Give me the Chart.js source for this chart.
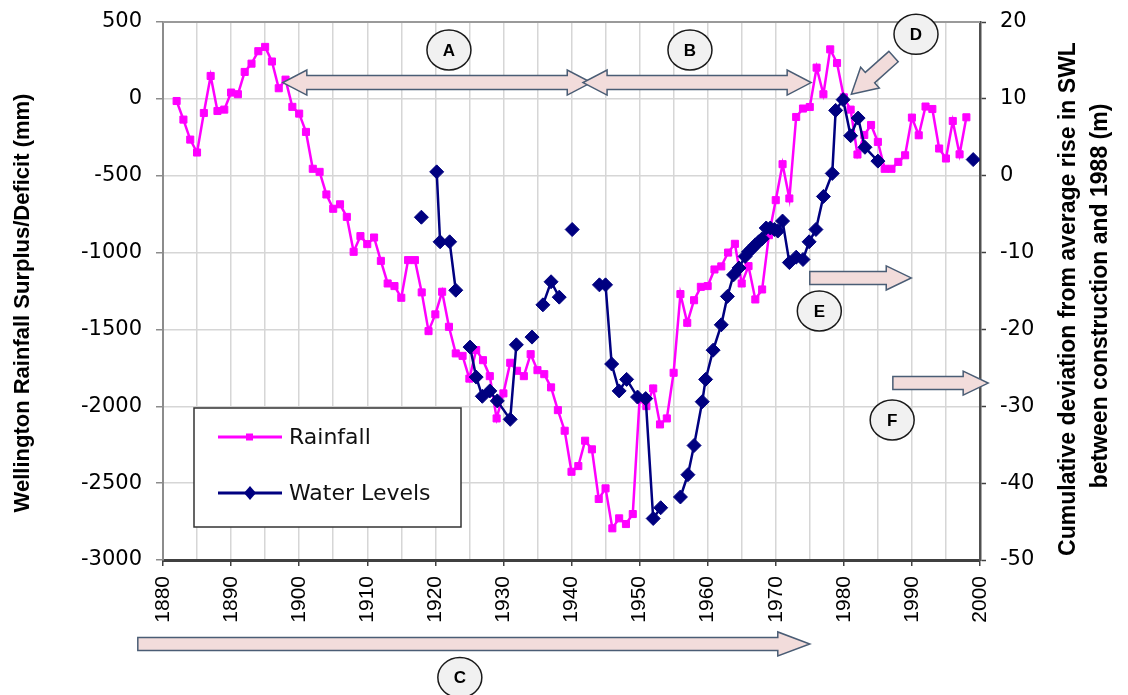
<!DOCTYPE html>
<html><head><meta charset="utf-8">
<script src="https://cdn.jsdelivr.net/npm/chart.js@4.4.1/dist/chart.umd.min.js"></script>
<style>html,body{margin:0;padding:0;background:#fff;}#wrap{width:1128px;height:695px;position:relative;}</style>
</head><body><div id="wrap"><canvas id="c" width="1128" height="695"></canvas></div>
<script>
// ---------- DATA ----------
const rainYears = [1882,1883,1884,1885,1886,1887,1888,1889,1890,1891,
 1892,1893,1894,1895,1896,1897,1898,1899,1900,1901,
 1902,1903,1904,1905,1906,1907,1908,1909,1910,1911,
 1912,1913,1914,1915,1916,1917,1918,1919,1920,1921,
 1922,1923,1924,1925,1926,1927,1928,1929,1930,1931,
 1932,1933,1934,1935,1936,1937,1938,1939,1940,1941,
 1942,1943,1944,1945,1946,1947,1948,1949,1950,1951,
 1952,1953,1954,1955,1956,1957,1958,1959,1960,1961,
 1962,1963,1964,1965,1966,1967,1968,1969,1970,1971,
 1972,1973,1974,1975,1976,1977,1978,1979,1980,1981,
 1982,1983,1984,1985,1986,1987,1988,1989,1990,1991,
 1992,1993,1994,1995,1996,1997,1998];
const rainValues = [-14,-135,-265,-349,-92,149,-79,-70,41,30,
 175,229,310,338,243,69,125,-52,-96,-215,
 -455,-475,-622,-715,-686,-768,-995,-893,-945,-902,
 -1054,-1201,-1218,-1294,-1049,-1049,-1259,-1511,-1402,-1255,
 -1483,-1656,-1672,-1820,-1634,-1700,-1804,-2079,-1916,-1717,
 -1769,-1804,-1661,-1765,-1791,-1877,-2025,-2159,-2426,-2389,
 -2224,-2280,-2603,-2534,-2794,-2729,-2766,-2701,-1955,-1999,
 -1884,-2118,-2079,-1782,-1270,-1457,-1310,-1223,-1218,-1110,
 -1090,-1000,-943,-1201,-1088,-1305,-1240,-887,-659,-425,
 -648,-118,-63,-53,203,30,322,233,10,-70,
 -362,-235,-170,-280,-455,-455,-410,-367,-122,-237,
 -50,-66,-323,-388,-144,-361,-120];
// water levels (null = gap in record)
const wlYears = [1917.95,1919,1920.2,1920.7,1922.1,1923.0,1924,1925.1,1926.0,1926.9,
 1928.0,1929.1,1931.0,1931.9,1933,1934.2,1935,1935.8,1937.0,1938.2,
 1939,1940.1,1942,1944.1,1945.0,1945.9,1947.0,1948.1,1949.7,1950.9,
 1952.0,1953.1,1954.5,1956.0,1957.1,1958.0,1959.2,1959.7,1960.8,1962.0,
 1962.9,1963.8,1964.6,1965.5,1966.0,1966.5,1967.0,1967.5,1968.0,1968.6,
 1969.2,1969.8,1970.3,1971.0,1972.0,1973.0,1974.0,1974.9,1975.9,1977.0,
 1978.3,1978.8,1979.9,1981.0,1982.1,1983.1,1985.0,1992,1999.0];
const wlValues = [-5.4,null,0.5,-8.6,-8.6,-14.9,null,-22.3,-26.2,-28.7,
 -28.0,-29.3,-31.7,-22.0,null,-21.0,null,-16.8,-13.8,-15.8,
 null,-7.0,null,-14.2,-14.2,-24.5,-28.0,-26.5,-28.8,-29.0,
 -44.6,-43.2,null,-41.8,-38.9,-35.1,-29.4,-26.5,-22.7,-19.4,
 -15.7,-12.9,-12.0,-10.5,-9.9,-9.5,-9.0,-8.6,-8.2,-6.8,
 -6.8,-7.0,-7.2,-5.9,-11.3,-10.6,-10.9,-8.6,-7.0,-2.7,
 0.3,8.5,9.9,5.2,7.5,3.7,1.9,null,2.1];
const seriesNames = ['Rainfall','Water Levels'];
const xTickStep = 5;        // gridlines every 5 years, labels every 10
const leftTicks = {min:-3000, max:500, step:500};
const rightTicks = {min:-50, max:20, step:10};
const leftTitle = 'Wellington Rainfall Surplus/Deficit (mm)';
const rightTitle = ['Cumulative deviation from average rise in SWL','between construction and 1988 (m)'];
// annotations in data coordinates (x = year, y = left-axis mm)
const arrowsDouble = [ {x1:1897.6, x2:1942.9, y:106}, {x1:1941.7, x2:1975.2, y:106} ];
const arrowsSingle = [
  {x1:1987.3, y1:275, x2:1981.1, y2:30},
  {x1:1975.0, y1:-1165, x2:1989.9, y2:-1165},
  {x1:1987.2, y1:-1849, x2:2001.2, y2:-1849},
  {x1:1876.3, y1:-3546, x2:1975.0, y2:-3546}
];
const labelCircles = [
  {t:'A', x:1922.0, y:318}, {t:'B', x:1957.4, y:318}, {t:'D', x:1990.6, y:420},
  {t:'E', x:1976.4, y:-1380}, {t:'F', x:1987.1, y:-2089}, {t:'C', x:1923.6, y:-3765}
];

const MAG = '#ff00ff', NAVY = '#000080';

function arrowPoly(ctx, x1,y1,x2,y2,w,hw,hl,dbl){
  const dx=x2-x1, dy=y2-y1, L=Math.hypot(dx,dy), ux=dx/L, uy=dy/L, nx=-uy, ny=ux;
  const P=(t,s)=>[x1+ux*t+nx*s, y1+uy*t+ny*s];
  let pts;
  if(dbl){
    pts=[P(0,0),P(hl,hw),P(hl,w),P(L-hl,w),P(L-hl,hw),P(L,0),P(L-hl,-hw),P(L-hl,-w),P(hl,-w),P(hl,-hw)];
  } else {
    pts=[P(0,w),P(L-hl,w),P(L-hl,hw),P(L,0),P(L-hl,-hw),P(L-hl,-w),P(0,-w)];
  }
  ctx.beginPath();
  ctx.moveTo(pts[0][0],pts[0][1]);
  for(let i=1;i<pts.length;i++) ctx.lineTo(pts[i][0],pts[i][1]);
  ctx.closePath();
  ctx.fillStyle='#f2dcdb'; ctx.fill();
  ctx.strokeStyle='#4a5d75'; ctx.lineWidth=1.5; ctx.stroke();
}

const overlay = {
  id:'overlay',
  afterDraw(chart){
    const ctx=chart.ctx, xs=chart.scales.x, ys=chart.scales.y, ca=chart.chartArea;
    ctx.save();
    // top border of plot area
    ctx.strokeStyle='#9a9a9a'; ctx.lineWidth=2;
    ctx.beginPath(); ctx.moveTo(ca.left,ca.top); ctx.lineTo(ca.right,ca.top); ctx.stroke();
    // annotations
    arrowsDouble.forEach(a=>{
      const y=ys.getPixelForValue(a.y);
      arrowPoly(ctx, xs.getPixelForValue(a.x1), y, xs.getPixelForValue(a.x2), y, 7, 12.5, 24, true);
    });
    arrowsSingle.forEach((a,i)=>{
      arrowPoly(ctx, xs.getPixelForValue(a.x1), ys.getPixelForValue(a.y1), xs.getPixelForValue(a.x2), ys.getPixelForValue(a.y2), i===0?7:6.5, i===0?14:12, i===3?32:25, false);
    });
    labelCircles.forEach(c=>{
      const px=xs.getPixelForValue(c.x), py=ys.getPixelForValue(c.y);
      ctx.beginPath(); ctx.ellipse(px,py,22,20,0,0,Math.PI*2);
      ctx.fillStyle='#f1f1f1'; ctx.fill();
      ctx.strokeStyle='#1a1a1a'; ctx.lineWidth=1.5; ctx.stroke();
      ctx.fillStyle='#000'; ctx.font='bold 17px "Liberation Sans", Arial, sans-serif';
      ctx.textAlign='center'; ctx.textBaseline='middle';
      ctx.fillText(c.t, px, py+1);
    });
    // legend
    const lx=194, ly=408, lw=267, lh=119;
    ctx.fillStyle='#fff'; ctx.fillRect(lx,ly,lw,lh);
    ctx.strokeStyle='#333'; ctx.lineWidth=1.5; ctx.strokeRect(lx,ly,lw,lh);
    const ds=chart.data.datasets;
    const entries=[ds.find(d=>d.label===seriesNames[0]), ds.find(d=>d.label===seriesNames[1])];
    entries.forEach((d,i)=>{
      const yy= i===0 ? 437 : 493;
      ctx.strokeStyle=d.borderColor; ctx.lineWidth=3;
      ctx.beginPath(); ctx.moveTo(218,yy); ctx.lineTo(282,yy); ctx.stroke();
      ctx.fillStyle=d.borderColor;
      if(d.pointStyle==='rect'){ ctx.fillRect(246,yy-3.5,7,7); }
      else { ctx.beginPath(); ctx.moveTo(250,yy-7); ctx.lineTo(256,yy); ctx.lineTo(250,yy+7); ctx.lineTo(244,yy); ctx.closePath(); ctx.fill(); }
      ctx.fillStyle='#111'; ctx.font='22px "DejaVu Sans", sans-serif';
      ctx.textAlign='left'; ctx.textBaseline='middle';
      ctx.fillText(d.label, 289, yy+1);
    });
    // axis titles
    ctx.fillStyle='#000';
    ctx.textAlign='center'; ctx.textBaseline='middle';
    ctx.font='bold 22px "Liberation Sans", Arial, sans-serif';
    ctx.save(); ctx.translate(23,303); ctx.rotate(-Math.PI/2); ctx.fillText(leftTitle,0,0); ctx.restore();
    ctx.font='bold 23px "Liberation Sans", Arial, sans-serif';
    ctx.save(); ctx.translate(1069,299); ctx.rotate(-Math.PI/2); ctx.fillText(rightTitle[0],0,0); ctx.restore();
    ctx.save(); ctx.translate(1101,296); ctx.rotate(-Math.PI/2); ctx.fillText(rightTitle[1],0,0); ctx.restore();
    ctx.restore();
  }
};

function noPad(s){ s.paddingTop=0; s.paddingBottom=0; s.paddingLeft=0; s.paddingRight=0; }

new Chart(document.getElementById('c'), {
  type:'line',
  data:{ datasets:[
    { label:seriesNames[1], data:wlYears.map((x,i)=>({x:x, y:wlValues[i]})), yAxisID:'y2',
      borderColor:NAVY, backgroundColor:NAVY, pointBackgroundColor:NAVY, pointBorderColor:NAVY,
      borderWidth:2.5, pointStyle:'rectRot', pointRadius:7, pointHoverRadius:7, pointBorderWidth:1,
      spanGaps:false, tension:0, order:0 },
    { label:seriesNames[0], data:rainYears.map((x,i)=>({x:x, y:rainValues[i]})), yAxisID:'y',
      borderColor:MAG, backgroundColor:MAG, pointBackgroundColor:MAG, pointBorderColor:MAG,
      borderWidth:2.5, pointStyle:'rect', pointRadius:5, pointHoverRadius:5, pointBorderWidth:1,
      tension:0, order:1 }
  ]},
  options:{
    responsive:false, animation:false, devicePixelRatio:1,
    layout:{padding:{top:22,left:0,right:0,bottom:0}},
    plugins:{legend:{display:false}, tooltip:{enabled:false}},
    scales:{
      x:{ type:'linear', position:'bottom', min:1880, max:2000,
        afterFit:s=>{s.height=135; noPad(s);},
        ticks:{ stepSize:xTickStep, autoSkip:false, minRotation:90, maxRotation:90, padding:10, color:'#000',
          font:{family:'"Liberation Sans", Arial, sans-serif', size:21},
          callback:v=> (v%10===0 ? String(v) : '') },
        grid:{ color:'#d6d6d6', lineWidth:1.5, tickLength:6, tickWidth:1.5,
          tickColor:c=> (c.tick && c.tick.value%10===0) ? '#404040' : 'rgba(0,0,0,0)' },
        border:{ color:'#404040', width:3 } },
      y:{ type:'linear', position:'left', min:leftTicks.min, max:leftTicks.max,
        afterFit:s=>{s.width=163; noPad(s);},
        ticks:{ stepSize:leftTicks.step, padding:14, color:'#000',
          font:{family:'"DejaVu Sans", sans-serif', size:21}, callback:v=>String(v) },
        grid:{ color:'#d6d6d6', lineWidth:1.5, tickLength:7, tickColor:'#8c8c8c' },
        border:{ color:'#8c8c8c', width:2 } },
      y2:{ type:'linear', position:'right', min:rightTicks.min, max:rightTicks.max,
        afterFit:s=>{s.width=148; noPad(s);},
        ticks:{ stepSize:rightTicks.step, padding:14, color:'#000',
          font:{family:'"DejaVu Sans", sans-serif', size:21}, callback:v=>String(v) },
        grid:{ drawOnChartArea:false, tickLength:6, tickColor:'#404040', tickWidth:1.5 },
        border:{ color:'#505050', width:2.5 } }
    }
  },
  plugins:[overlay]
});
</script></body></html>
